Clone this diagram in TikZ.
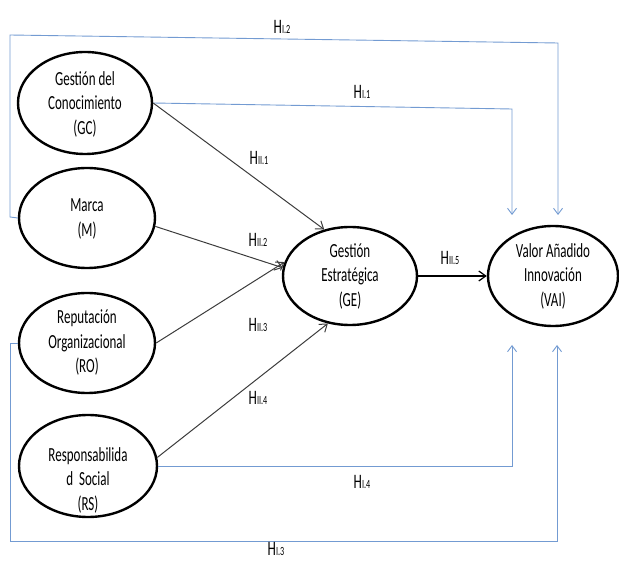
\documentclass[tikz,border=0pt]{standalone}
\usepackage{fontspec}
\usetikzlibrary{shapes.geometric,arrows.meta}
\newfontfamily\cond[FakeStretch=0.65]{Carlito}
\definecolor{linkblue}{RGB}{115,155,210}
\definecolor{arrgray}{RGB}{60,60,60}
\newcommand{\hyp}[1]{H{\fontsize{12.5}{12.5}\selectfont #1}}
\tikzset{
  construct/.style={ellipse, draw=black, line width=2.4pt, inner sep=0pt},
  ctext/.style={align=center, font=\cond\fontsize{20}{24.5}\selectfont, inner sep=0pt},
  hlabel/.style={font=\cond\fontsize{20.5}{22}\selectfont, inner sep=0pt},
  direct/.style={draw=linkblue, line width=0.9pt, -{Straight Barb[length=6pt,width=9pt]}},
  mediated/.style={draw=arrgray, line width=1pt, -{Straight Barb[length=7pt,width=10pt]}},
}
\begin{document}
\begin{tikzpicture}[x=1pt,y=-1pt]
\useasboundingbox (0,0) rectangle (619,561);
% constructs
\node[construct, minimum width=134pt, minimum height=102pt] (gc) at (85,103) {};
\node[construct, minimum width=136pt, minimum height=100pt] (m) at (87,218) {};
\node[construct, minimum width=136pt, minimum height=100pt] (ro) at (87,343) {};
\node[construct, minimum width=138pt, minimum height=102pt] (rs) at (88,466) {};
\node[construct, minimum width=134pt, minimum height=98pt] (ge) at (350,276) {};
\node[construct, minimum width=130pt, minimum height=100pt] (vai) at (553,276) {};
% texts
\node[ctext] (gct) at (85,104) {Gestión del\\Conocimiento\\(GC)};
\node[ctext] (mt) at (87,219) {Marca\\(M)};
\node[ctext] (rot) at (87,343) {Reputación\\Organizacional\\(RO)};
\node[ctext] (rst) at (88,480) {Responsabilida\\d\ \ Social\\(RS)};
\node[ctext] (get) at (350,276) {Gestión\\Estratégica\\(GE)};
\node[ctext] (vait) at (553,276) {Valor Añadido\\Innovación\\(VAI)};
% corner coordinates
\coordinate (c2a) at (10,217);
\coordinate (c2b) at (10,35);
\coordinate (c2c) at (558,43);
\coordinate (e2) at (558,215);
\coordinate (c1a) at (512,109);
\coordinate (e1) at (512,215);
\coordinate (c4a) at (512,466);
\coordinate (e4) at (512,345);
\coordinate (c3a) at (10,343);
\coordinate (c3b) at (10,541);
\coordinate (c3c) at (557,541);
\coordinate (e3) at (557,345);
% direct effects (blue)
\draw[direct] (m.west) -- (c2a) -- (c2b) -- (c2c) -- (e2);
\draw[direct] (gc.east) -- (c1a) -- (e1);
\draw[direct] (rs.east) -- (c4a) -- (e4);
\draw[direct] (ro.west) -- (c3a) -- (c3b) -- (c3c) -- (e3);
% mediated effects
\draw[mediated] (gc.east) -- (ge.119);
\draw[mediated] (m.-7) -- (ge.173);
\draw[mediated] (ro.east) -- (ge.168);
\draw[mediated] (rs.7) -- (ge.245);
\draw[mediated, draw=black, line width=1.2pt] (ge.east) -- (vai.west);
% labels
\node[hlabel] (l12) at (282,27) {\hyp{I.2}};
\node[hlabel] (l11) at (362,92) {\hyp{I.1}};
\node[hlabel] (l21) at (259,158) {\hyp{II.1}};
\node[hlabel] (l22) at (258,240) {\hyp{II.2}};
\node[hlabel] (l25) at (450,258) {\hyp{II.5}};
\node[hlabel] (l23) at (258,325) {\hyp{II.3}};
\node[hlabel] (l24) at (258,398) {\hyp{II.4}};
\node[hlabel] (l14) at (362,482) {\hyp{I.4}};
\node[hlabel] (l13) at (276,549) {\hyp{I.3}};
\end{tikzpicture}
\end{document}
